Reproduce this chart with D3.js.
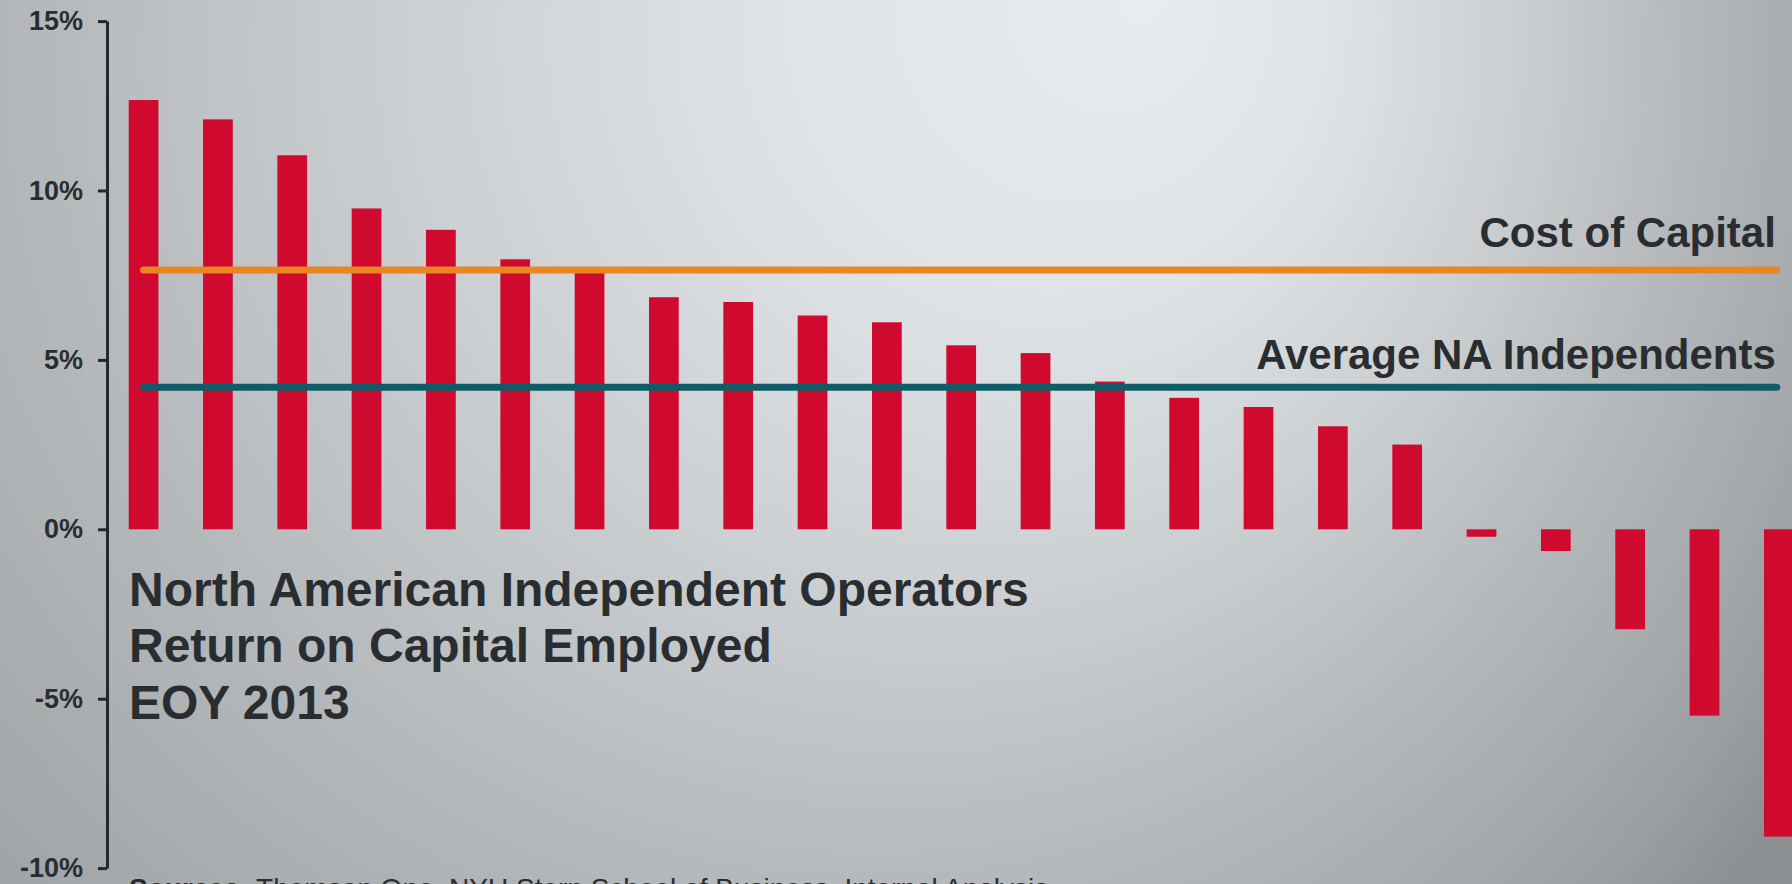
<!DOCTYPE html>
<html>
<head>
<meta charset="utf-8">
<script src="https://cdn.jsdelivr.net/npm/d3@7"></script>
<style>
  html, body { margin: 0; padding: 0; overflow: hidden; }
  svg { display: block; }
  text { font-family: "Liberation Sans", Arial, sans-serif; }
</style>
</head>
<body>
<script>
// ---- data ----
const companies = ["1","2","3","4","5","6","7","8","9","10","11","12","13","14","15","16","17","18","19","20","21","22","23"];
const roce = [12.67, 12.10, 11.04, 9.47, 8.84, 7.97, 7.60, 6.85, 6.71, 6.31, 6.11, 5.43, 5.20, 4.36, 3.88, 3.61, 3.04, 2.50, -0.22, -0.64, -2.95, -5.50, -9.07];
const refNames = ["Cost of Capital", "Average NA Independents"];
const refValues = [7.65, 4.19];
const yTicks = [-10, -5, 0, 5, 10, 15];
const titleLines = ["North American Independent Operators", "Return on Capital Employed", "EOY 2013"];
const sourceLabel = "Sources:";
const sourceText = " Thomson One, NYU Stern School of Business, Internal Analysis";

// ---- layout ----
const W = 1792, H = 884;
const svg = d3.select("body").append("svg").attr("width", W).attr("height", H);

const defs = svg.append("defs");
const bg = defs.append("radialGradient").attr("id", "bg")
  .attr("gradientUnits", "userSpaceOnUse")
  .attr("cx", 700).attr("cy", 100).attr("r", 1300)
  .attr("fx", 1150).attr("fy", 0);
[[0, "#e9ecee"], [0.22, "#e0e3e5"], [0.42, "#ccd0d2"], [0.62, "#b6babd"], [0.8, "#a5a9ac"], [0.9, "#9a9ea1"], [1, "#8b8f92"]]
  .forEach(([o, c]) => bg.append("stop").attr("offset", o).attr("stop-color", c));
svg.append("rect").attr("width", W).attr("height", H).attr("fill", "url(#bg)");

const y = d3.scaleLinear().domain([-10, 15]).range([868.1, 21.1]);
const x = d3.scaleBand().domain(companies).range([106.4, 1816]).paddingInner(0.6).paddingOuter(0.3);
const axisX = 107;

// bars
svg.append("g").selectAll("rect").data(roce).join("rect")
  .attr("x", (d, i) => x(companies[i]))
  .attr("y", d => y(Math.max(0, d)))
  .attr("width", x.bandwidth())
  .attr("height", d => Math.abs(y(d) - y(0)))
  .attr("fill", "#d00a2f");

// reference lines
const refColors = ["#e98622", "#0d5c68"];
const lx1 = x(companies[0]) + x.bandwidth() / 2;
const lx2 = x(companies[companies.length - 1]) + x.bandwidth() / 2;
const refOffsets = [-23, -18];
svg.append("g").selectAll("line").data(refValues).join("line")
  .attr("x1", lx1).attr("x2", lx2 - 2)
  .attr("y1", d => y(d)).attr("y2", d => y(d))
  .attr("stroke", (d, i) => refColors[i])
  .attr("stroke-width", 7)
  .attr("stroke-linecap", "round");
svg.append("g").selectAll("text").data(refValues).join("text")
  .attr("x", lx2 - 3)
  .attr("y", (d, i) => y(d) + refOffsets[i])
  .attr("text-anchor", "end")
  .attr("font-size", 42)
  .attr("font-weight", "bold")
  .attr("fill", "#2a2d30")
  .text((d, i) => refNames[i]);

// y axis
const axis = d3.axisLeft(y).tickValues(yTicks).tickFormat(d => d + "%")
  .tickSize(9).tickSizeOuter(0).tickPadding(15);
const ag = svg.append("g").attr("transform", `translate(${axisX},0)`).call(axis);
ag.select(".domain").attr("stroke", "#25282b").attr("stroke-width", 3);
ag.selectAll(".tick line").attr("stroke", "#25282b").attr("stroke-width", 3);
ag.selectAll(".tick text")
  .attr("font-family", "Liberation Sans, Arial, sans-serif")
  .attr("font-size", 27).attr("font-weight", "bold").attr("fill", "#2a2d30");

// title
const title = svg.append("text")
  .attr("x", 129).attr("y", 605.7)
  .attr("font-size", 48).attr("font-weight", "bold").attr("fill", "#2a2d30");
title.selectAll("tspan").data(titleLines).join("tspan")
  .attr("x", 129).attr("dy", (d, i) => i === 0 ? 0 : 56.6)
  .text(d => d);

// source (cut by the bottom edge, as in the reference)
const src = svg.append("text").attr("x", 129).attr("y", 898)
  .attr("font-size", 28).attr("fill", "#2a2d30");
src.append("tspan").attr("font-weight", "bold").text(sourceLabel);
src.append("tspan").text(sourceText);
</script>
</body>
</html>
